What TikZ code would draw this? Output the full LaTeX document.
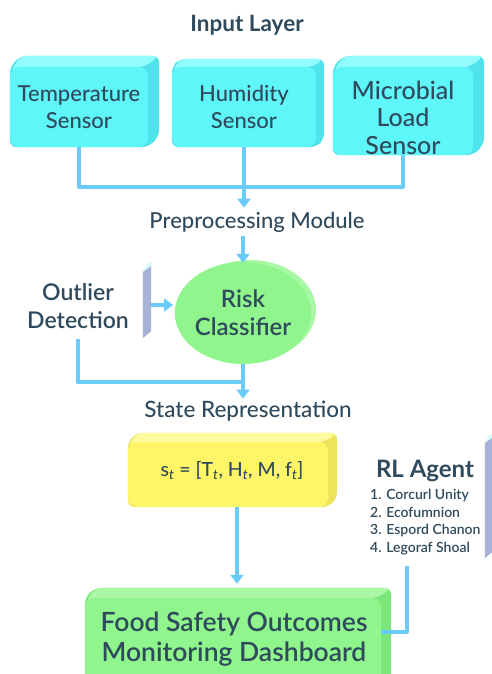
\documentclass[tikz,border=0pt]{standalone}
\usepackage{fontspec}
\setmainfont{Lato}
\newfontfamily\semib{Lato Semibold}
\newfontfamily\med{Lato Medium}
\usetikzlibrary{arrows.meta,shapes.geometric,backgrounds}

\definecolor{ink}{HTML}{2E4A5C}
\definecolor{wire}{HTML}{6BCBF8}
\definecolor{cyanF}{HTML}{5EF6F8}
\definecolor{cyanT}{HTML}{92FBFB}
\definecolor{cyanS}{HTML}{4FE4EC}
\definecolor{greenF}{HTML}{8FF58C}
\definecolor{greenT}{HTML}{AAF8A6}
\definecolor{greenS}{HTML}{7DE67B}
\definecolor{yelF}{HTML}{FFF667}
\definecolor{yelT}{HTML}{FFFA9E}
\definecolor{yelS}{HTML}{EDE45C}
\definecolor{slabF}{HTML}{A8B2D6}
\definecolor{slabT}{HTML}{D6FAFA}

% extruded block behind a front-face node: #1 node, #2 depth, #3 top colour, #4 side colour
\newcommand\solid[4]{%
  \begin{scope}[on background layer]
    \fill[#4, rounded corners=7pt] (#1.north west)
      -- ([shift={(#2pt,#2pt)}]#1.north west)
      -- ([shift={(#2pt,#2pt)}]#1.north east)
      -- ([shift={(#2pt,#2pt)}]#1.south east)
      -- (#1.south east) -- (#1.south west) -- cycle;
    \fill[#3, rounded corners=7pt] ([yshift=-6pt]#1.north west)
      -- ([shift={(#2pt,#2pt)}]#1.north west)
      -- ([shift={(#2pt,#2pt)}]#1.north east)
      -- ([xshift=-3pt]#1.north east) -- cycle;
  \end{scope}}

% thin slanted slab: #1 node
\newcommand\slab[1]{%
  \fill[slabF] ([yshift=-7pt]#1.north west) -- ([yshift=-1pt]#1.north east)
    -- ([yshift=7pt]#1.south east) -- (#1.south west) -- cycle;
  \fill[slabT] ([yshift=-7pt]#1.north west) -- ([xshift=4pt]#1.north west)
    -- ([xshift=1pt,yshift=3pt]#1.north east) -- ([yshift=-1pt]#1.north east) -- cycle;}

\tikzset{
  face/.style={rounded corners=9pt, inner sep=0pt, align=center, text=ink},
  lbl/.style={text=ink, align=center, inner sep=2pt},
  conn/.style={draw=wire, line width=4pt, line join=round},
  arr/.style={-{Triangle[width=13pt,length=9pt]}},
  anchorbox/.style={inner sep=0pt, minimum width=8pt}
}

\begin{document}
\begin{tikzpicture}[x=1pt,y=-1pt]
\useasboundingbox (0,0) rectangle (492,674);
\clip (0,0) rectangle (492,674);

% title
\node[lbl, font=\fontsize{22.5}{26}\selectfont\bfseries] (title) at (247,25) {Input Layer};

% sensors
\node[face, fill=cyanF, minimum width=138pt, minimum height=80pt,
      font=\fontsize{22}{27}\selectfont\med] (temp) at (79,107) {Temperature\\Sensor};
\solid{temp}{11}{cyanT}{cyanS}
\node[face, fill=cyanF, minimum width=144pt, minimum height=80pt,
      font=\fontsize{22}{27}\selectfont\med] (hum) at (244,107) {Humidity\\Sensor};
\solid{hum}{8}{cyanT}{cyanS}
\node[face, fill=cyanF, minimum width=140pt, minimum height=88pt] (micro) at (403,111) {};
\solid{micro}{11}{cyanT}{cyanS}
\node[lbl, font=\fontsize{25}{27.5}\selectfont\med] (microtxt) at (403,117.5) {Microbial\\Load\\Sensor};

% preprocessing
\node[lbl, inner sep=4pt, font=\fontsize{22}{26}\selectfont\med] (prep) at (257,222) {Preprocessing Module};
\coordinate (j1) at (245,187);
\draw[conn] (temp.south) |- (j1) -| (micro.south);
\draw[conn, arr] (hum.south) -- (hum.south |- prep.north);

% risk classifier
\node[ellipse, fill=greenF, minimum width=132pt, minimum height=102pt, inner sep=0pt,
      align=center, text=ink, font=\fontsize{24}{28}\selectfont\semib] (risk) at (243,313) {Risk\\Classifier};
\begin{scope}[on background layer]
  \fill[greenT] ([shift={(7pt,3pt)}]risk.center) ellipse (66pt and 50pt);
\end{scope}
\draw[conn, arr] (risk.north |- prep.south) -- ([yshift=-1pt]risk.north);

% outlier detection
\node[lbl, font=\fontsize{23}{28}\selectfont\semib] (outl) at (78,306) {Outlier\\Detection};
\node[anchorbox, minimum height=73pt] (obar) at (147,301.5) {};
\slab{obar}
\coordinate (oin) at (173,305);
\draw[conn, arr] (obar.east |- oin) -- (oin);

% state representation
\node[lbl, font=\fontsize{22.5}{27}\selectfont\med] (state) at (248,411) {State Representation};
\coordinate (j2) at (risk.south |- 0,382);
\draw[conn] ([yshift=-8pt]outl.south) |- (j2);
\draw[conn, arr] (risk.south) -- (risk.south |- state.north);

% state vector
\node[face, fill=yelF, minimum width=200pt, minimum height=65pt] (svec) at (228,474.5) {};
\solid{svec}{9}{yelT}{yelS}
\node[lbl, font=\fontsize{19.5}{24}\selectfont\med] (form) at (232,471)
  {s\textsubscript{\itshape t} = [T\textsubscript{\itshape t}, H\textsubscript{\itshape t}, M, f\textsubscript{\itshape t}]};

% RL agent
\node[lbl, font=\fontsize{24}{28}\selectfont\bfseries] (rlt) at (425,471) {RL Agent};
\node[lbl, anchor=north west, align=left, font=\fontsize{14}{17.5}\selectfont\semib] (rl) at (368,487)
  {1. Corcurl Unity\\2. Ecofumnion\\3. Espord Chanon\\4. Legoraf Shoal};
\node[anchorbox, minimum height=122pt] (rbar) at (489,497) {};
\slab{rbar}

% dashboard
\node[face, fill=greenF, minimum width=296pt, minimum height=92pt] (dash) at (233,644) {};
\solid{dash}{10}{greenT}{greenS}
\node[lbl, font=\fontsize{26.5}{30}\selectfont\semib] (dtxt) at (234,639)
  {Food Safety Outcomes\\Monitoring Dashboard};

\draw[conn, arr] ([xshift=9pt]svec.south) -- ([xshift=9pt,yshift=14pt]svec.south |- dash.north);
\coordinate (rlout) at (407,566);
\draw[conn] (rlout) |- ([yshift=12pt]dash.east);
\end{tikzpicture}
\end{document}
